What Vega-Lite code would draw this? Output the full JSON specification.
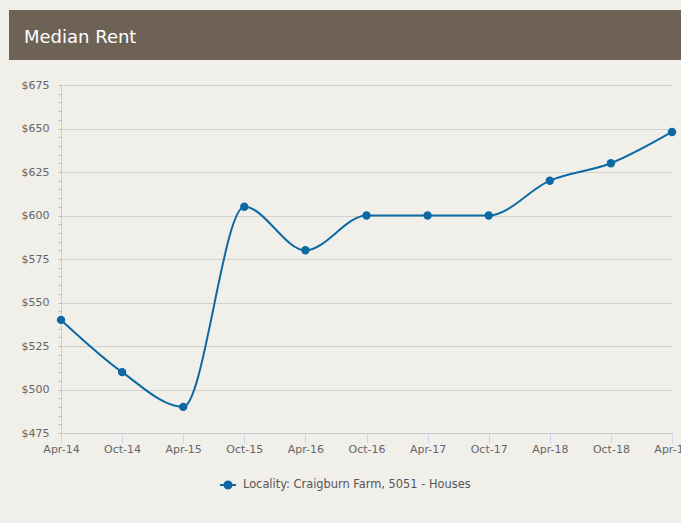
{
  "$schema": "https://vega.github.io/schema/vega-lite/v6.json",
  "background": "#f1efea",
  "padding": {"left": 8, "top": 10, "right": 0, "bottom": 33},
  "spacing": 19,
  "config": {
    "font": "DejaVu Sans",
    "view": {"stroke": null},
    "axis": {"labelFont": "DejaVu Sans", "labelFontSize": 11, "labelColor": "#666666"}
  },
  "datasets": {
    "header": [{"title": "Median Rent", "start": 0, "end": 1}],
    "rent": [
      {"period": "Apr-14", "rent": 540, "series": "Locality: Craigburn Farm, 5051 - Houses"},
      {"period": "Oct-14", "rent": 510, "series": "Locality: Craigburn Farm, 5051 - Houses"},
      {"period": "Apr-15", "rent": 490, "series": "Locality: Craigburn Farm, 5051 - Houses"},
      {"period": "Oct-15", "rent": 605, "series": "Locality: Craigburn Farm, 5051 - Houses"},
      {"period": "Apr-16", "rent": 580, "series": "Locality: Craigburn Farm, 5051 - Houses"},
      {"period": "Oct-16", "rent": 600, "series": "Locality: Craigburn Farm, 5051 - Houses"},
      {"period": "Apr-17", "rent": 600, "series": "Locality: Craigburn Farm, 5051 - Houses"},
      {"period": "Oct-17", "rent": 600, "series": "Locality: Craigburn Farm, 5051 - Houses"},
      {"period": "Apr-18", "rent": 620, "series": "Locality: Craigburn Farm, 5051 - Houses"},
      {"period": "Oct-18", "rent": 630, "series": "Locality: Craigburn Farm, 5051 - Houses"},
      {"period": "Apr-19", "rent": 648, "series": "Locality: Craigburn Farm, 5051 - Houses"}
    ]
  },
  "vconcat": [
    {
      "width": 621,
      "height": 50,
      "data": {"name": "header"},
      "encoding": {
        "x": {"field": "start", "type": "quantitative", "scale": {"domain": [0, 1], "range": [-52, 621]}, "axis": null}
      },
      "layer": [
        {
          "mark": {"type": "rect", "color": "#6e6256"},
          "encoding": {"x2": {"field": "end"}}
        },
        {
          "mark": {"type": "text", "align": "left", "baseline": "alphabetic", "fontSize": 18, "color": "#ffffff", "font": "DejaVu Sans", "dx": 15},
          "encoding": {
            "text": {"field": "title"},
            "y": {"value": 33}
          }
        }
      ]
    },
    {
      "width": 611,
      "height": 348,
      "data": {"name": "rent"},
      "encoding": {
        "x": {
          "field": "period",
          "type": "ordinal",
          "sort": null,
          "scale": {"type": "point", "padding": 0},
          "axis": {
            "title": null,
            "labelAngle": 0,
            "labelPadding": 0,
            "tickSize": 10,
            "tickColor": "#ccd6eb",
            "domainColor": "#cccccc",
            "grid": false,
            "labelOverlap": false
          }
        }
      },
      "layer": [
        {
          "mark": {"type": "line", "interpolate": "monotone", "color": "#0c69a2", "strokeWidth": 2},
          "encoding": {
            "y": {
              "field": "rent",
              "type": "quantitative",
              "scale": {"domain": [475, 675], "nice": false, "zero": false},
              "axis": {
                "orient": "left",
                "title": null,
                "values": [475, 500, 525, 550, 575, 600, 625, 650, 675],
                "format": "$,.0f",
                "grid": true,
                "gridColor": "#d0d0d0",
                "domain": true,
                "domainColor": "#cccccc",
                "ticks": true,
                "tickSize": 52,
                "tickColor": "transparent",
                "labelPadding": -40
              }
            }
          }
        },
        {
          "mark": {"type": "point", "filled": true, "opacity": 1, "size": 70},
          "encoding": {
            "y": {
              "field": "rent",
              "type": "quantitative",
              "axis": {
                "orient": "left",
                "title": null,
                "values": [475, 480, 485, 490, 495, 500, 505, 510, 515, 520, 525, 530, 535, 540, 545, 550, 555, 560, 565, 570, 575, 580, 585, 590, 595, 600, 605, 610, 615, 620, 625, 630, 635, 640, 645, 650, 655, 660, 665, 670, 675],
                "labels": false,
                "grid": false,
                "domain": false,
                "tickSize": 3,
                "tickColor": "#bbbbbb"
              }
            },
            "color": {
              "field": "series",
              "type": "nominal",
              "scale": {"range": ["#0c69a2"]},
              "legend": {
                "title": null,
                "orient": "none",
                "legendX": 158,
                "legendY": 466,
                "padding": 0,
                "symbolType": "M-1,0L1,0M-0.45,0A0.45,0.45 0 1,0 0.45,0A0.45,0.45 0 1,0 -0.45,0",
                "symbolSize": 256,
                "symbolStrokeColor": "#0c69a2",
                "symbolFillColor": "#0c69a2",
                "symbolStrokeWidth": 2,
                "symbolOpacity": 1,
                "labelFont": "DejaVu Sans",
                "labelFontSize": 11.4,
                "labelColor": "#555555",
                "labelOffset": 6,
                "labelLimit": 400
              }
            }
          }
        }
      ],
      "resolve": {"axis": {"y": "independent"}}
    }
  ]
}
